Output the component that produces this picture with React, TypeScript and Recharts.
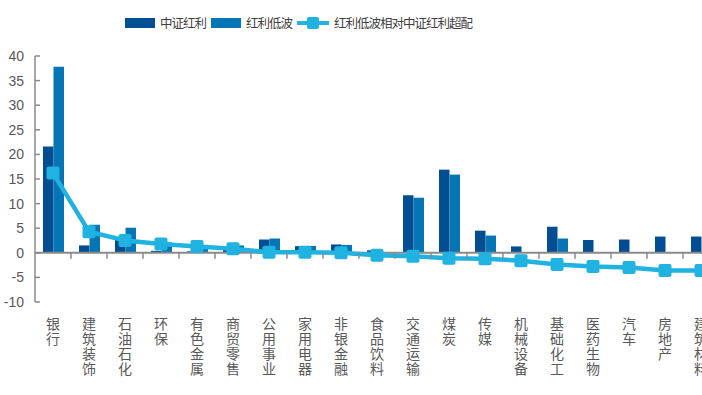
import { Bar, ComposedChart, Line, ReferenceLine, XAxis, YAxis } from "recharts";

const industries = [
  "银行", "建筑装饰", "石油石化", "环保", "有色金属", "商贸零售", "公用事业",
  "家用电器", "非银金融", "食品饮料", "交通运输", "煤炭", "传媒", "机械设备",
  "基础化工", "医药生物", "汽车", "房地产", "建筑材料",
];
const csiDividend = [21.6, 1.5, 2.6, 0.4, 0.3, 0.7, 2.7, 1.35, 1.7, 0.5, 11.7, 16.9, 4.5, 1.3, 5.3, 2.6, 2.7, 3.3, 3.3];
const lowVolDividend = [37.8, 5.7, 5.1, 2.1, 1.6, 1.5, 2.9, 1.4, 1.6, 0, 11.2, 15.9, 3.5, 0, 2.9, 0, 0, 0, 0];
const overweight = [16.2, 4.3, 2.5, 1.8, 1.3, 0.8, 0.1, 0.1, 0, -0.5, -0.7, -1.1, -1.2, -1.6, -2.4, -2.8, -3.0, -3.6, -3.6];
const yTicks = [-10, -5, 0, 5, 10, 15, 20, 25, 30, 35, 40];

const data = industries.map((name, i) => ({
  name,
  csi: csiDividend[i],
  lowVol: lowVolDividend[i],
  over: overweight[i],
}));

const DARK = "#034e92";
const MID = "#0675b5";
const CYAN = "#20b2e0";
const AXIS = "#8a8a8a";
const TEXT = "#595959";

const CHART_W = 730;
const CHART_H = 395;
const MARGIN = { top: 56, right: 11, bottom: 13, left: 0 };
const Y_AXIS_W = 35;
const X_AXIS_H = 80;
const PLOT_H = CHART_H - MARGIN.top - MARGIN.bottom - X_AXIS_H;
const PLOT_W = CHART_W - MARGIN.left - MARGIN.right - Y_AXIS_W;
const BAND = PLOT_W / industries.length;
const ZERO_Y = MARGIN.top + (PLOT_H * 40) / 50;

// vertical category labels, one char per line
function CategoryTick(props: any) {
  const { x, y, payload } = props;
  const chars = String(payload.value).split("");
  return (
    <g>
      <line x1={x + BAND / 2} x2={x + BAND / 2} y1={ZERO_Y} y2={ZERO_Y + 6} stroke={AXIS} strokeWidth={1.5} />
      {chars.map((c, i) => (
        <text key={i} x={x} y={y + 27 + i * 15} textAnchor="middle" fill={TEXT} fontSize={14}>
          {c}
        </text>
      ))}
    </g>
  );
}

function ValueTick(props: any) {
  const { x, y, payload } = props;
  return (
    <g>
      <line x1={x + 11} x2={x + 16} y1={y} y2={y} stroke={AXIS} strokeWidth={1.5} />
      <text x={x} y={y} dy="0.35em" textAnchor="end" fill={TEXT} fontSize={14} fontFamily="Liberation Sans, Arial, sans-serif">
        {payload.value}
      </text>
    </g>
  );
}

function SquareDot(props: any) {
  const { cx, cy } = props;
  if (cx == null || cy == null) return null;
  return <rect x={cx - 6.5} y={cy - 6.5} width={13} height={13} rx={2} fill={CYAN} />;
}

function ChartLegend() {
  const label = { marginRight: 5, letterSpacing: -1 };
  return (
    <div
      style={{
        position: "absolute",
        left: 125,
        top: 13,
        display: "flex",
        alignItems: "center",
        fontSize: 12.5,
        color: "#404040",
        whiteSpace: "nowrap",
        zIndex: 2,
      }}
    >
      <span style={{ width: 30, height: 10, background: DARK, marginRight: 5 }} />
      <span style={label}>中证红利</span>
      <span style={{ width: 30, height: 10, background: MID, marginRight: 5 }} />
      <span style={label}>红利低波</span>
      <span style={{ position: "relative", width: 32, height: 12, marginRight: 5 }}>
        <span style={{ position: "absolute", left: 0, right: 0, top: 4, height: 4, background: CYAN }} />
        <span style={{ position: "absolute", left: 10, top: 0, width: 12, height: 12, borderRadius: 2, background: CYAN }} />
      </span>
      <span style={label}>红利低波相对中证红利超配</span>
    </div>
  );
}

export default function App() {
  return (
    <div
      style={{
        position: "fixed",
        left: 0,
        top: 0,
        width: 702,
        height: 395,
        overflow: "hidden",
        background: "#fff",
        fontFamily: "'Noto Sans CJK SC', 'Noto Sans', sans-serif",
      }}
    >
      <ChartLegend />
      <ComposedChart width={CHART_W} height={CHART_H} data={data} margin={MARGIN} barGap={0}>
        <XAxis
          dataKey="name"
          interval={0}
          height={X_AXIS_H}
          axisLine={false}
          tickLine={false}
          tickSize={0}
          tickMargin={0}
          tick={<CategoryTick />}
        />
        <YAxis
          domain={[-10, 40]}
          ticks={yTicks}
          interval={0}
          width={Y_AXIS_W}
          axisLine={{ stroke: AXIS, strokeWidth: 1.5 }}
          tickLine={false}
          tickSize={0}
          tickMargin={11}
          tick={<ValueTick />}
        />
        <ReferenceLine y={0} stroke={AXIS} strokeWidth={2} />
        <Bar dataKey="csi" name="中证红利" fill={DARK} barSize={10.5} isAnimationActive={false} />
        <Bar dataKey="lowVol" name="红利低波" fill={MID} barSize={10.5} isAnimationActive={false} />
        <Line
          dataKey="over"
          name="红利低波相对中证红利超配"
          type="linear"
          stroke={CYAN}
          strokeWidth={4.5}
          dot={<SquareDot />}
          activeDot={false}
          isAnimationActive={false}
        />
      </ComposedChart>
    </div>
  );
}
